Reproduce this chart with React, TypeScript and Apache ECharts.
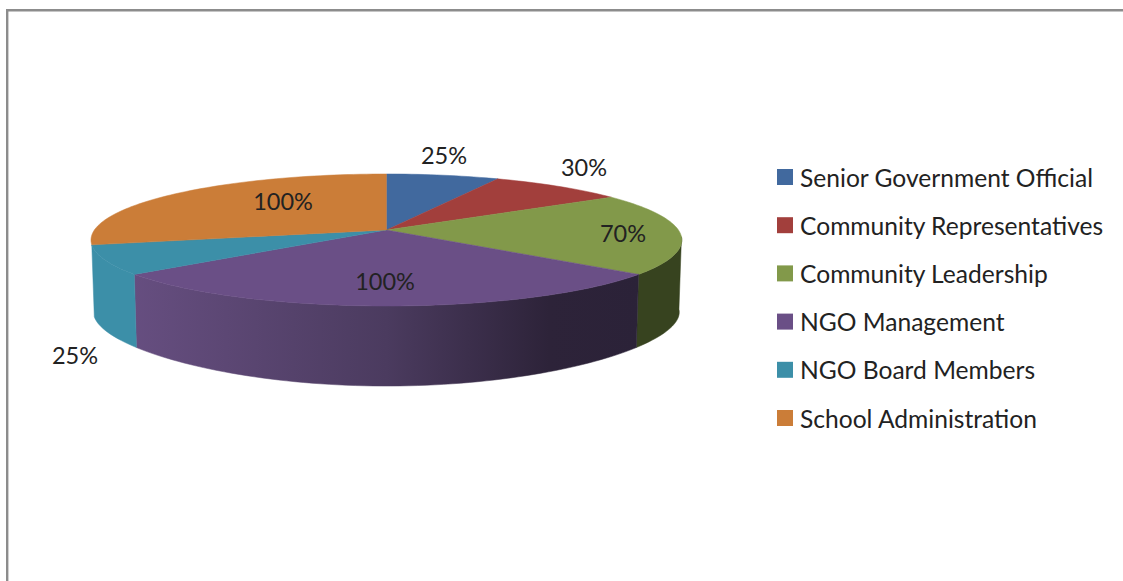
import React, { useEffect, useRef } from "react";
import * as echarts from "echarts";

const categories = [
  "Senior Government Official",
  "Community Representatives",
  "Community Leadership",
  "NGO Management",
  "NGO Board Members",
  "School Administration",
];
const values = [25, 30, 70, 100, 25, 100];
const labels = ["25%", "30%", "70%", "100%", "25%", "100%"];

const topColors = ["#41699e", "#a23f3c", "#82994a", "#6a4f86", "#3c8fa8", "#cb7d38"];
const labelPositions = [
  [444, 155],
  [584, 167],
  [623, 233],
  [385, 281],
  [75, 355],
  [283, 201],
];

const total = values.reduce((a, b) => a + b, 0);
const rad = (t: number) => (t * Math.PI) / 180;

// Perspective projection of the pie's top and bottom rims.
const CX = 386.4;
const topPoint = (t: number, r = 1) => {
  const s = Math.sin(rad(t)) * r;
  const c = Math.cos(rad(t)) * r;
  const d = 1 + 0.1515 * c;
  return [CX + (292 * s) / d, 230 - (64.5 * c) / d];
};
const bottomPoint = (t: number) => {
  const s = Math.sin(rad(t));
  const c = Math.cos(rad(t));
  return [CX + (289.5 * s) / (1 + 0.1515 * c), 302.9 - (58.2 * c) / (1 + 0.3 * c)];
};

const arc = (fn: (t: number) => number[], a: number, b: number) => {
  const n = Math.max(2, Math.ceil(Math.abs(b - a) / 1.5));
  const pts: number[][] = [];
  for (let i = 0; i <= n; i++) pts.push(fn(a + ((b - a) * i) / n));
  return pts;
};

const sideFill = (i: number): any => {
  if (i === 3) {
    return new echarts.graphic.LinearGradient(
      133, 0, 640, 0,
      [
        { offset: 0, color: "#664e80" },
        { offset: 0.5, color: "#4b3b5f" },
        { offset: 0.82, color: "#2d2339" },
        { offset: 1, color: "#2b2238" },
      ],
      true
    );
  }
  if (i === 2) return "#37431f";
  return topColors[i];
};

const VIS_FROM = 96;
const VIS_TO = 257.2;

const makeRender = (index: number) => (_params: any, api: any) => {
  const value = api.value(0) as number;
  const before = values.slice(0, index).reduce((a, b) => a + b, 0);
  const start = (before / total) * 360;
  const end = start + (value / total) * 360;
  const children: any[] = [];

  const a = Math.max(start, VIS_FROM);
  const b = Math.min(end, VIS_TO);
  if (b - a > 0.5) {
    const top = arc(topPoint, a, b);
    const bottom = arc(bottomPoint, b, a);
    children.push({
      type: "polygon",
      shape: { points: top.concat(bottom) },
      style: { fill: sideFill(index), stroke: sideFill(index), lineWidth: 0.5 },
    });
  }
  children.push({
    type: "polygon",
    shape: { points: [[CX, 230], ...arc(topPoint, start, end)] },
    style: { fill: topColors[index], stroke: topColors[index], lineWidth: 0.5 },
  });
  children.push({
    type: "text",
    z2: 10,
    style: {
      x: labelPositions[index][0],
      y: labelPositions[index][1],
      text: labels[index],
      fill: "#222222",
      font: "23.5px Lato",
      align: "center",
      verticalAlign: "middle",
    },
  });
  return { type: "group", children };
};

export default function App() {
  const ref = useRef<HTMLDivElement>(null);
  useEffect(() => {
    document.body.style.margin = "0";
    const chart = echarts.init(ref.current!, undefined, { renderer: "svg" });
    chart.setOption({
      animation: false,
      backgroundColor: "#ffffff",
      legend: {
        orient: "vertical",
        left: 777,
        top: 164,
        padding: 0,
        itemWidth: 16,
        itemHeight: 16,
        itemGap: 22.2,
        icon: "rect",
        data: categories,
        textStyle: {
          fontFamily: "Lato",
          fontSize: 24.6,
          color: "#222222",
          lineHeight: 26,
          padding: [0, 0, 0, 2],
        },
      },
      graphic: [
        {
          type: "polyline",
          shape: { points: [[7.2, 581], [7.2, 10.2], [1123, 10.2]] },
          style: { stroke: "#8c8c8c", fill: "none", lineWidth: 2.4 },
        },
      ],
      series: categories.map((name, i) => ({
        type: "custom",
        name,
        coordinateSystem: "none",
        itemStyle: { color: topColors[i] },
        renderItem: makeRender(i),
        data: [{ name, value: [values[i]] }],
      })),
    });
    return () => chart.dispose();
  }, []);
  return (
    <div
      ref={ref}
      style={{ position: "absolute", left: 0, top: 0, width: 1123, height: 581, overflow: "hidden" }}
    />
  );
}
